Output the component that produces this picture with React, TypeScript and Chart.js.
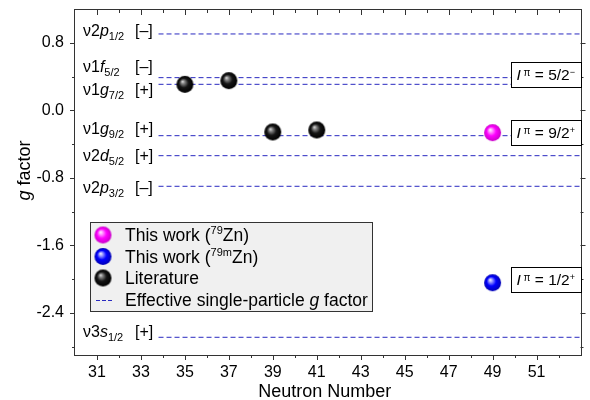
import React, { useEffect, useRef } from 'react';
import { Chart, registerables } from 'chart.js';

Chart.register(...registerables);

// ---------- data ----------
const neutronMin = 30;
const neutronMax = 53;
const gMin = -2.9;
const gMax = 1.19;

const xTickLabels = [31, 33, 35, 37, 39, 41, 43, 45, 47, 49, 51];
const yTickLabels = [-2.4, -1.6, -0.8, 0.0, 0.8];

const literatureN = [35, 37, 39, 41];
const literatureG = [0.309, 0.352, -0.256, -0.232];
const zn79N = [49];
const zn79G = [-0.264];
const zn79mN = [49];
const zn79mG = [-2.043];

const orbitalShell = ['2', '1', '1', '1', '2', '2', '3'];
const orbitalL = ['p', 'f', 'g', 'g', 'd', 'p', 's'];
const orbitalJ = ['1/2', '5/2', '7/2', '9/2', '5/2', '3/2', '1/2'];
const orbitalParity = ['[–]', '[–]', '[+]', '[+]', '[+]', '[–]', '[+]'];
const orbitalG = [0.906, 0.388, 0.309, -0.3, -0.537, -0.9, -2.69];
const orbitalLabelG = [0.882, 0.455, 0.177, -0.28, -0.596, -0.976, -2.683];
const lineStartN = 33.8;
const lineEndN = 53;

const spinValue = ['5/2', '9/2', '1/2'];
const spinParity = ['−', '+', '+'];
const spinG = [0.42, -0.268, -2.008];
const spinBoxN = 49.85;

const yMinorStep = 0.4;
const xMinorStep = 1;

// ---------- helpers ----------
const FAM = '"Liberation Sans", Arial, sans-serif';
const fnt = (size: number, italic = false) => `${italic ? 'italic ' : ''}${size}px ${FAM}`;

type Seg = { t: string; size: number; italic?: boolean; dy?: number };

function segWidth(ctx: CanvasRenderingContext2D, segs: Seg[]) {
  let w = 0;
  for (const s of segs) {
    ctx.font = fnt(s.size, s.italic);
    w += ctx.measureText(s.t).width;
  }
  return w;
}

function drawSegs(ctx: CanvasRenderingContext2D, x: number, y: number, segs: Seg[]) {
  let cx = x;
  for (const s of segs) {
    ctx.font = fnt(s.size, s.italic);
    ctx.fillText(s.t, cx, y + (s.dy || 0));
    cx += ctx.measureText(s.t).width;
  }
  return cx - x;
}

function makeSphere(stops: [number, string][], r: number) {
  const c = document.createElement('canvas');
  const size = Math.ceil(r * 2) + 2;
  c.width = size;
  c.height = size;
  const g = c.getContext('2d')!;
  const cx = size / 2;
  const cy = size / 2;
  const grad = g.createRadialGradient(cx - r * 0.3, cy - r * 0.35, 0, cx, cy, r);
  for (const [o, col] of stops) grad.addColorStop(o, col);
  g.fillStyle = grad;
  g.beginPath();
  g.arc(cx, cy, r, 0, Math.PI * 2);
  g.fill();
  return c;
}

const LINE_COLOR = '#2a2ac0';

export default function App() {
  const ref = useRef<HTMLCanvasElement | null>(null);

  useEffect(() => {
    const canvas = ref.current!;
    const R = 8.5;
    const magenta = makeSphere([[0, '#ffffff'], [0.22, '#ff99ff'], [0.55, '#ff00ff'], [1, '#c800c8']], R);
    const blue = makeSphere([[0, '#ffffff'], [0.22, '#9a9aff'], [0.55, '#0000ff'], [1, '#0000b4']], R);
    const black = makeSphere([[0, '#f0f0f0'], [0.2, '#8a8a8a'], [0.55, '#151515'], [1, '#000000']], R);

    const lineSets = orbitalG.map((g) => ({
      type: 'scatter' as const,
      data: [
        { x: lineStartN, y: g },
        { x: lineEndN, y: g },
      ],
      showLine: true,
      borderColor: LINE_COLOR,
      borderWidth: 1,
      borderDash: [5, 3],
      pointRadius: 0,
      pointHoverRadius: 0,
    }));

    const overlay = {
      id: 'overlay',
      afterDatasetsDraw(chart: any) {
        const ctx: CanvasRenderingContext2D = chart.ctx;
        const a = chart.chartArea;
        const xs = chart.scales.x;
        const ys = chart.scales.y;
        ctx.save();
        ctx.textBaseline = 'alphabetic';
        ctx.textAlign = 'left';
        ctx.fillStyle = '#000';

        // frame
        ctx.strokeStyle = '#333';
        ctx.lineWidth = 1;
        ctx.strokeRect(Math.round(a.left) - 0.5, Math.round(a.top) - 0.5, Math.round(a.right - a.left) + 1, Math.round(a.bottom - a.top) + 1);

        // ticks (major + minor)
        ctx.beginPath();
        for (let k = Math.ceil(gMin / yMinorStep); k * yMinorStep <= gMax + 1e-9; k++) {
          const v = k * yMinorStep;
          const py = Math.round(ys.getPixelForValue(v)) + 0.5;
          const len = k % 2 === 0 ? 5 : 3;
          ctx.moveTo(a.left, py);
          ctx.lineTo(a.left - len, py);
          ctx.moveTo(a.right, py);
          ctx.lineTo(a.right + len, py);
        }
        for (let v = neutronMin + xMinorStep; v < neutronMax; v += xMinorStep) {
          const px = Math.round(xs.getPixelForValue(v)) + 0.5;
          const len = v % 2 === 1 ? 5 : 3;
          ctx.moveTo(px, a.bottom);
          ctx.lineTo(px, a.bottom + len);
          ctx.moveTo(px, a.top);
          ctx.lineTo(px, a.top + len);
        }
        ctx.stroke();

        // orbital labels
        const lx = a.left + 8;
        const bx = a.left + 60;
        orbitalG.forEach((_, i) => {
          const by = ys.getPixelForValue(orbitalLabelG[i]);
          drawSegs(ctx, lx, by, [
            { t: 'ν' + orbitalShell[i], size: 16 },
            { t: orbitalL[i], size: 16, italic: true },
            { t: orbitalJ[i], size: 11, dy: 4 },
          ]);
          ctx.font = fnt(16);
          ctx.fillText(orbitalParity[i], bx, by);
        });

        // spin boxes
        const boxL = Math.round(xs.getPixelForValue(spinBoxN)) + 0.5;
        spinValue.forEach((sv, i) => {
          const cy = ys.getPixelForValue(spinG[i]);
          const top = Math.round(cy - 12.5) + 0.5;
          const w = Math.round(a.right) - boxL + 0.5;
          ctx.fillStyle = '#fff';
          ctx.fillRect(boxL, top, w, 25);
          ctx.strokeStyle = '#000';
          ctx.strokeRect(boxL, top, w, 25);
          ctx.fillStyle = '#000';
          drawSegs(ctx, boxL + 5, cy + 5.5, [
            { t: 'I', size: 15.5, italic: true },
            { t: ' π', size: 10, dy: -4 },
            { t: ' = ' + sv, size: 15.5 },
            { t: spinParity[i], size: 9, dy: -5 },
          ]);
        });

        // legend
        const L = a.left + 15;
        const T = a.top + 212;
        const W = 282;
        const H = 89;
        ctx.fillStyle = '#f0f0f0';
        ctx.fillRect(L + 0.5, T + 0.5, W, H);
        ctx.strokeStyle = '#333';
        ctx.strokeRect(L + 0.5, T + 0.5, W, H);
        const rows = [T + 13, T + 34.5, T + 56, T + 77.5];
        const mx = L + 13;
        const tx = L + 35;
        ctx.drawImage(magenta, mx - magenta.width / 2, rows[0] - magenta.height / 2);
        ctx.drawImage(blue, mx - blue.width / 2, rows[1] - blue.height / 2);
        ctx.drawImage(black, mx - black.width / 2, rows[2] - black.height / 2);
        ctx.strokeStyle = LINE_COLOR;
        ctx.setLineDash([4, 2]);
        ctx.beginPath();
        ctx.moveTo(L + 6, Math.round(rows[3]) + 0.5);
        ctx.lineTo(L + 24, Math.round(rows[3]) + 0.5);
        ctx.stroke();
        ctx.setLineDash([]);
        ctx.fillStyle = '#000';
        const base = 6;
        const fs = 17.5;
        drawSegs(ctx, tx, rows[0] + base, [
          { t: 'This work (', size: fs },
          { t: '79', size: 11, dy: -7 },
          { t: 'Zn)', size: fs },
        ]);
        drawSegs(ctx, tx, rows[1] + base, [
          { t: 'This work (', size: fs },
          { t: '79m', size: 11, dy: -7 },
          { t: 'Zn)', size: fs },
        ]);
        drawSegs(ctx, tx, rows[2] + base, [{ t: 'Literature', size: fs }]);
        drawSegs(ctx, tx, rows[3] + base, [
          { t: 'Effective single-particle ', size: fs },
          { t: 'g', size: fs, italic: true },
          { t: ' factor', size: fs },
        ]);

        // axis titles
        const xt: Seg[] = [{ t: 'Neutron Number', size: 18 }];
        const xw = segWidth(ctx, xt);
        drawSegs(ctx, (a.left + a.right) / 2 - xw / 2 - 3, a.bottom + 42, xt);

        const yt: Seg[] = [
          { t: 'g', size: 18, italic: true },
          { t: ' factor', size: 18 },
        ];
        const yw = segWidth(ctx, yt);
        ctx.translate(30, (a.top + a.bottom) / 2 - 12);
        ctx.rotate(-Math.PI / 2);
        drawSegs(ctx, -yw / 2, 0, yt);
        ctx.restore();
      },
    };

    const chart = new Chart(canvas, {
      type: 'scatter',
      data: {
        datasets: [
          {
            data: zn79N.map((n, i) => ({ x: n, y: zn79G[i] })),
            pointStyle: magenta as any,
            pointRadius: R,
          },
          {
            data: zn79mN.map((n, i) => ({ x: n, y: zn79mG[i] })),
            pointStyle: blue as any,
            pointRadius: R,
          },
          {
            data: literatureN.map((n, i) => ({ x: n, y: literatureG[i] })),
            pointStyle: black as any,
            pointRadius: R,
          },
          ...lineSets,
        ] as any,
      },
      options: {
        animation: false,
        responsive: false,
        devicePixelRatio: 1,
        events: [],
        layout: { padding: { top: 10, right: 8, left: 0, bottom: 0 } },
        plugins: { legend: { display: false }, tooltip: { enabled: false } },
        scales: {
          x: {
            type: 'linear',
            min: neutronMin,
            max: neutronMax,
            grid: { display: false },
            border: { display: false },
            afterBuildTicks: (s: any) => {
              s.ticks = xTickLabels.map((v) => ({ value: v }));
            },
            afterFit: (s: any) => {
              s.height = 45;
              s.paddingLeft = 0;
              s.paddingRight = 0;
            },
            ticks: {
              autoSkip: false,
              maxRotation: 0,
              padding: 0,
              color: '#000',
              font: { family: FAM, size: 16 },
              callback: (v: any) => String(v),
            },
          },
          y: {
            type: 'linear',
            min: gMin,
            max: gMax,
            grid: { display: false },
            border: { display: false },
            afterBuildTicks: (s: any) => {
              s.ticks = yTickLabels.map((v) => ({ value: v }));
            },
            afterFit: (s: any) => {
              s.width = 75;
              s.paddingTop = 0;
              s.paddingBottom = 0;
            },
            ticks: {
              autoSkip: false,
              padding: 3,
              color: '#000',
              font: { family: FAM, size: 16 },
              callback: (v: any) => Number(v).toFixed(1),
            },
          },
        },
      },
      plugins: [overlay],
    });
    return () => chart.destroy();
  }, []);

  return (
    <div style={{ position: 'absolute', left: 0, top: 0, width: 590, height: 400, background: '#fff' }}>
      <canvas ref={ref} width={590} height={400} style={{ width: 590, height: 400, display: 'block' }} />
    </div>
  );
}
